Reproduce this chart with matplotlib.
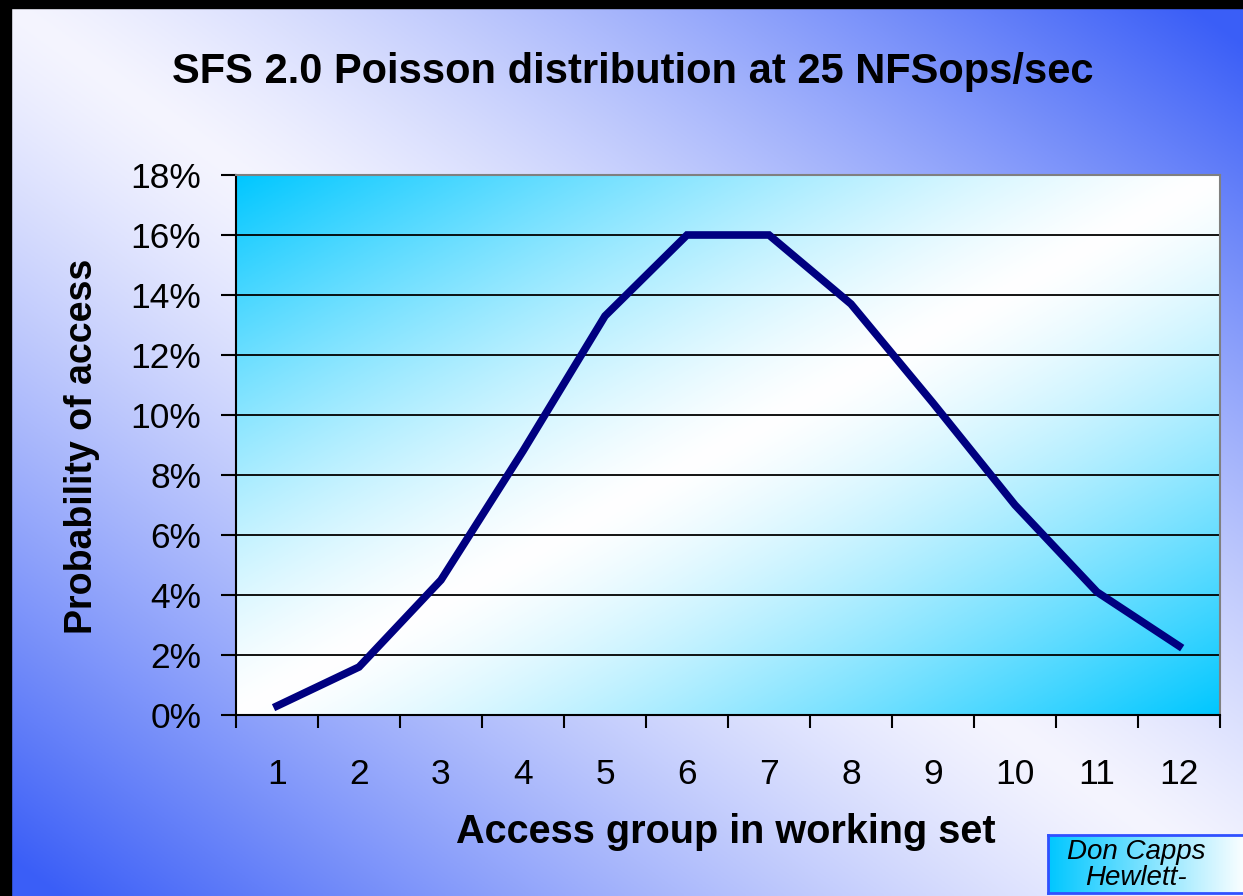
"""
SFS 2.0 Poisson distribution chart (recreated)
Run: python plot.py
"""

import matplotlib.pyplot as plt
import numpy as np
from matplotlib.patches import Rectangle
from matplotlib.ticker import FixedLocator, NullFormatter, FuncFormatter

# Data
groups = list(range(1, 13))
prob_pct = [0.3, 1.6, 4.5, 8.8, 13.3, 16.0, 16.0, 13.7, 10.4, 7.0, 4.1, 2.3]
y_ticks = [0, 2, 4, 6, 8, 10, 12, 14, 16, 18]

title = 'SFS 2.0 Poisson distribution at 25 NFSops/sec'
x_label = 'Access group in working set'
y_label = 'Probability of access'
credit_lines = ['Don Capps', 'Hewlett-']

plt.rcParams['font.family'] = ['Liberation Sans', 'DejaVu Sans']

W, H = 1243, 896
fig = plt.figure(figsize=(W / 100, H / 100), dpi=100)

# figure background: blue corners (top-right / bottom-left), pale diagonal
bg = fig.add_axes([0, 0, 1, 1], zorder=-10)
gx, gy = np.meshgrid(np.linspace(0, 1, 400), np.linspace(0, 1, 300))
t = np.clip(np.abs(gx - gy) * 1.05, 0, 1) ** 1.25
blue = np.array([0.23, 0.37, 0.97])
white = np.array([0.96, 0.96, 1.0])
img = white * (1 - t[..., None]) + blue * t[..., None]
bg.imshow(img, extent=[0, 1, 0, 1], aspect='auto', origin='upper')
bg.add_patch(Rectangle((0, 1 - 8 / H), 1, 8 / H, color='black'))
bg.add_patch(Rectangle((0, 0), 11 / W, 1, color='black'))
bg.set_xlim(0, 1)
bg.set_ylim(0, 1)
bg.axis('off')

# plot area: cyan in top-left and bottom-right corners
ax = fig.add_axes([236 / W, 181 / H, 984 / W, 540 / H])
px, py = np.meshgrid(np.linspace(0, 1, 300), np.linspace(0, 1, 200))
s = np.clip(np.abs(px + py - 1), 0, 1) ** 1.3
cyan = np.array([0.0, 0.78, 1.0])
pw = np.array([1.0, 1.0, 1.0])
pimg = pw * (1 - s[..., None]) + cyan * s[..., None]
ax.imshow(pimg, extent=[0.5, 12.5, 0, 18], aspect='auto', origin='upper',
          zorder=0)

ax.plot(groups, prob_pct, color='#000080', linewidth=5.5,
        solid_joinstyle='miter', zorder=3)

ax.set_xlim(0.5, 12.5)
ax.set_ylim(0, 18)
for yv in y_ticks[1:-1]:
    ax.axhline(yv, color='black', linewidth=1.3, zorder=2)

ax.set_yticks(y_ticks)
ax.yaxis.set_major_formatter(FuncFormatter(lambda v, p: f'{v:.0f}%'))
ax.tick_params(axis='y', direction='out', length=11, width=1.5,
               labelsize=25.5, pad=14)

ax.xaxis.set_major_locator(FixedLocator(np.arange(0.5, 13, 1)))
ax.xaxis.set_major_formatter(NullFormatter())
ax.xaxis.set_minor_locator(FixedLocator(groups))
ax.set_xticklabels([str(g) for g in groups], minor=True)
ax.tick_params(axis='x', which='major', direction='out', length=9, width=1.5)
ax.tick_params(axis='x', which='minor', length=0, labelsize=25.5, pad=31)

for side in ['left', 'bottom']:
    ax.spines[side].set_color('black')
    ax.spines[side].set_linewidth(1.5)
for side in ['top', 'right']:
    ax.spines[side].set_color('#808080')
    ax.spines[side].set_linewidth(1.5)

fig.text(633 / W, 1 - 72 / H, title, ha='center', va='center',
         fontsize=30, fontweight='bold')
fig.text(726 / W, 1 - 832 / H, x_label, ha='center', va='center',
         fontsize=28.5, fontweight='bold')
fig.text(82 / W, 1 - 446 / H, y_label, ha='center', va='center',
         rotation=90, fontsize=27, fontweight='bold')

# credit box, bottom right
cax = fig.add_axes([1048 / W, 3 / H, 200 / W, 58 / H])
cg = np.linspace(0, 1, 200)[None, :].repeat(20, axis=0)
cimg = cyan * (1 - cg[..., None]) + pw * cg[..., None]
cax.imshow(cimg, extent=[0, 1, 0, 1], aspect='auto')
cax.set_xlim(0, 1)
cax.set_ylim(0, 1)
cax.set_xticks([])
cax.set_yticks([])
for sp in cax.spines.values():
    sp.set_color('#3050ff')
    sp.set_linewidth(2)
cax.text(0.44, 0.70, credit_lines[0], ha='center', va='center',
         fontsize=20, style='italic')
cax.text(0.44, 0.26, credit_lines[1], ha='center', va='center',
         fontsize=20, style='italic')

fig.savefig('out.png', dpi=100)
